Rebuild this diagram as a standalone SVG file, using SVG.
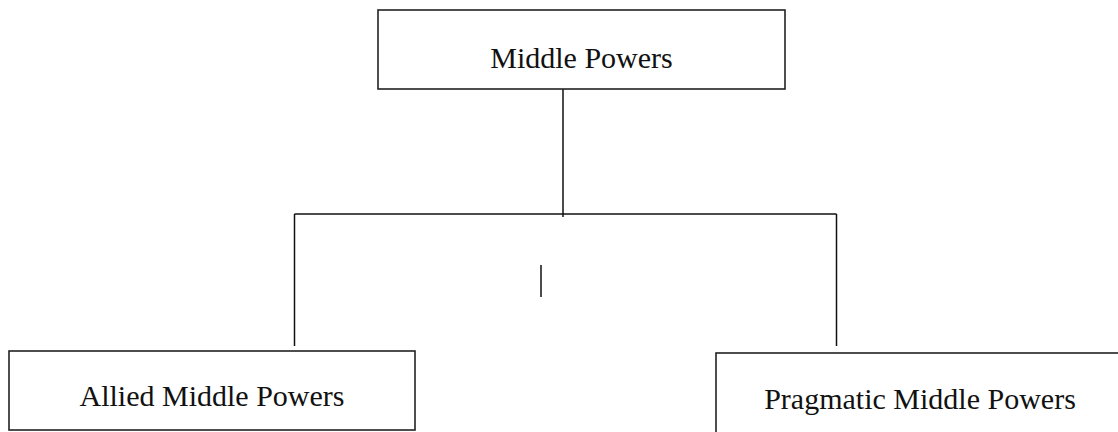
<svg xmlns="http://www.w3.org/2000/svg" width="1118" height="432" viewBox="0 0 1118 432">
  <style>
    .box { fill: #ffffff; stroke: #222222; stroke-width: 1.6; }
    .lbl { font-family: "Liberation Serif", "Times New Roman", serif; font-size: 30px; fill: #111111; text-anchor: middle; }
    .wire { stroke: #111111; stroke-width: 1.5; fill: none; }
  </style>
  <rect width="1118" height="432" fill="#ffffff"/>
  <g id="connectors">
    <line class="wire" x1="563" y1="89" x2="563" y2="217"/>
    <line class="wire" x1="294.5" y1="214" x2="836.5" y2="214"/>
    <line class="wire" x1="294.5" y1="214" x2="294.5" y2="346"/>
    <line class="wire" x1="836.5" y1="214" x2="836.5" y2="346"/>
    <line class="wire" x1="541" y1="265" x2="541" y2="297"/>
  </g>
  <g id="middle-powers">
    <rect class="box" x="378" y="10" width="407" height="79"/>
    <text class="lbl" x="581.5" y="68">Middle Powers</text>
  </g>
  <g id="allied-middle-powers">
    <rect class="box" x="9" y="351" width="406" height="79"/>
    <text class="lbl" x="212" y="406">Allied Middle Powers</text>
  </g>
  <g id="pragmatic-middle-powers">
    <rect class="box" x="716" y="353" width="408" height="90"/>
    <text class="lbl" x="920" y="409">Pragmatic Middle Powers</text>
  </g>
</svg>
